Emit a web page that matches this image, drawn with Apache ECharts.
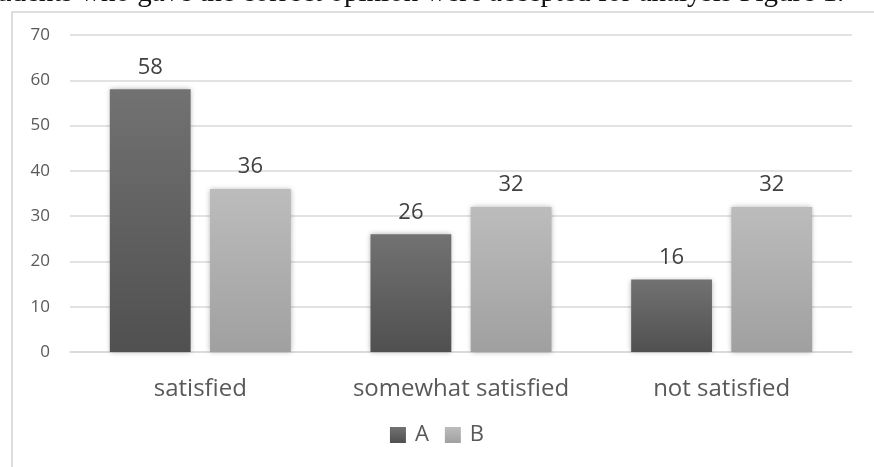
<!DOCTYPE html>
<html>
<head>
<meta charset="utf-8">
<script src="https://cdn.jsdelivr.net/npm/echarts@6/dist/echarts.min.js"></script>
<style>
  html, body { margin: 0; padding: 0; background: #fff; }
  #chart { width: 874px; height: 467px; }
</style>
</head>
<body>
<div id="chart"></div>
<script>
const categories = ['satisfied', 'somewhat satisfied', 'not satisfied']
const seriesNames = ['A', 'B']
const valuesA = [58, 26, 16]
const valuesB = [36, 32, 32]
const captionText = 'udents who gave the correct opinion were accepted for analysis Figure 1.'

const chart = echarts.init(document.getElementById('chart'))

// vertical gradient like the office-style bars
function grad(top, bottom) {
  return new echarts.graphic.LinearGradient(0, 0, 0, 1, [
    { offset: 0, color: top },
    { offset: 1, color: bottom }
  ])
}

const labelStyle = {
  show: true,
  position: 'top',
  distance: 11,
  color: '#404040',
  fontSize: 22,
  fontFamily: 'Open Sans'
}

chart.setOption({
  animation: false,
  textStyle: { fontFamily: 'Open Sans' },
  graphic: [
    {
      type: 'rect',
      shape: { x: 12, y: 12, width: 900, height: 500 },
      style: { fill: 'none', stroke: '#d4d4d4', lineWidth: 1.5 },
      z: 0
    },
    {
      type: 'text',
      x: -3,
      y: -21,
      style: {
        text: captionText,
        fontFamily: 'Liberation Serif',
        fontSize: 29,
        fill: '#111'
      }
    }
  ],
  legend: {
    data: seriesNames,
    bottom: 16,
    left: 'center',
    itemWidth: 16,
    itemHeight: 16,
    itemGap: 16,
    icon: 'rect',
    textStyle: { color: '#595959', fontSize: 22, padding: [0, 0, 0, 4] }
  },
  grid: { left: 70, right: 22, top: 35, bottom: 115 },
  xAxis: {
    type: 'category',
    data: categories,
    axisTick: { show: false },
    axisLine: { lineStyle: { color: '#d9d9d9', width: 1.5 } },
    axisLabel: { color: '#595959', fontSize: 24, margin: 25, interval: 0 }
  },
  yAxis: {
    type: 'value',
    min: 0,
    max: 70,
    interval: 10,
    axisLine: { show: false },
    axisTick: { show: false },
    splitLine: { lineStyle: { color: '#d9d9d9', width: 1.5 } },
    axisLabel: { color: '#595959', fontSize: 17, margin: 20 }
  },
  series: [
    {
      name: 'A',
      type: 'bar',
      data: valuesA,
      barWidth: '31%',
      barGap: '24%',
      itemStyle: {
        color: grad('#727272', '#505050'),
        shadowColor: 'rgba(0,0,0,0.3)',
        shadowBlur: 5
      },
      label: labelStyle
    },
    {
      name: 'B',
      type: 'bar',
      data: valuesB,
      barWidth: '31%',
      itemStyle: {
        color: grad('#bcbcbc', '#a0a0a0'),
        shadowColor: 'rgba(0,0,0,0.3)',
        shadowBlur: 5
      },
      label: labelStyle
    }
  ]
})
</script>
</body>
</html>
